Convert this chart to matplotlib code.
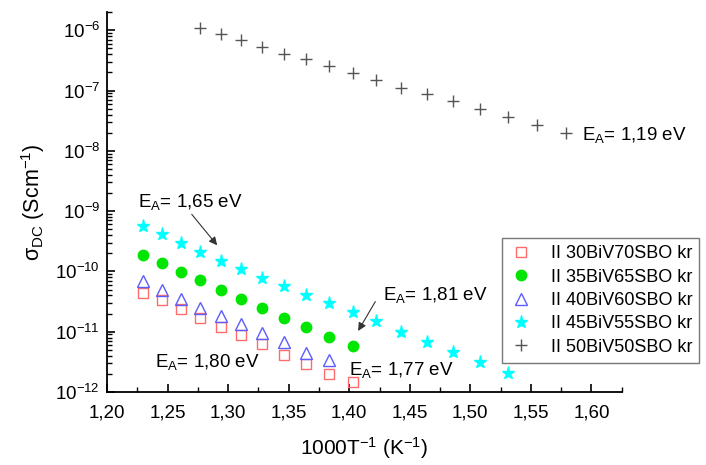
import math
import matplotlib
matplotlib.use("Agg")
import matplotlib.pyplot as plt
from matplotlib.ticker import LogLocator, MultipleLocator, FuncFormatter, NullFormatter

plt.rcParams['font.family'] = ['Liberation Sans', 'DejaVu Sans']
plt.rcParams['mathtext.fontset'] = 'custom'
plt.rcParams['mathtext.rm'] = 'Liberation Sans'
plt.rcParams['mathtext.it'] = 'Liberation Sans:italic'
plt.rcParams['mathtext.bf'] = 'Liberation Sans:bold'

# 1000/T values (K^-1)
x_long = [1.230, 1.245, 1.261, 1.277, 1.294, 1.311, 1.328, 1.346, 1.364,
          1.383, 1.403, 1.422, 1.443, 1.464, 1.486, 1.508, 1.531]
x_50 = [1.277, 1.294, 1.311, 1.328, 1.346, 1.364, 1.383, 1.403, 1.422,
        1.443, 1.464, 1.486, 1.508, 1.531, 1.555, 1.579]

s30 = [4.4e-11, 3.3e-11, 2.36e-11, 1.7e-11, 1.2e-11, 8.65e-12, 6.3e-12,
       4.1e-12, 2.86e-12, 2.0e-12, 1.44e-12]
s35 = [1.9e-10, 1.4e-10, 9.6e-11, 7.1e-11, 4.9e-11, 3.46e-11, 2.43e-11,
       1.7e-11, 1.2e-11, 8.3e-12, 5.75e-12]
s40 = [6.9e-11, 4.9e-11, 3.46e-11, 2.5e-11, 1.83e-11, 1.35e-11, 9.7e-12,
       6.8e-12, 4.45e-12, 3.37e-12]
s45 = [5.6e-10, 4.1e-10, 2.97e-10, 2.1e-10, 1.51e-10, 1.1e-10, 7.9e-11,
       5.8e-11, 4.1e-11, 3.0e-11, 2.1e-11, 1.48e-11, 9.8e-12, 6.7e-12,
       4.6e-12, 3.16e-12, 2.1e-12]
s50 = [1.11e-6, 8.8e-7, 6.8e-7, 5.3e-7, 4.1e-7, 3.3e-7, 2.53e-7, 1.96e-7,
       1.48e-7, 1.12e-7, 8.6e-8, 6.6e-8, 4.9e-8, 3.65e-8, 2.73e-8, 1.98e-8]

labels = ["II 30BiV70SBO kr", "II 35BiV65SBO kr", "II 40BiV60SBO kr",
          "II 45BiV55SBO kr", "II 50BiV50SBO kr"]

fig = plt.figure(figsize=(7.06, 4.65), dpi=100)
ax = fig.add_axes([0.1516, 0.157, 0.729, 0.817])

ax.plot(x_long[:len(s30)], s30, ls='none', marker='s', ms=6.5, mfc='none',
        mec='#ff6b6b', mew=1.0, label=labels[0])
ax.plot(x_long[:len(s35)], s35, ls='none', marker='o', ms=7.5, mfc='#00e600',
        mec='#00e600', label=labels[1])
ax.plot(x_long[:len(s40)], s40, ls='none', marker='^', ms=8, mfc='none',
        mec='#5c5cff', mew=1.0, label=labels[2])
ax.plot(x_long[:len(s45)], s45, ls='none', marker='*', ms=9.5, mfc='#00ffff',
        mec='#00ffff', label=labels[3])
ax.plot(x_50, s50, ls='none', marker='+', ms=8, mec='#555555', mew=1.0,
        label=labels[4])

ax.set_yscale('log')
ax.set_xlim(1.20, 1.625)
ax.set_ylim(1e-12, 2e-6)

ax.spines['top'].set_visible(False)
ax.spines['right'].set_visible(False)
ax.spines['left'].set_linewidth(1.3)
ax.spines['bottom'].set_linewidth(1.3)

ax.xaxis.set_major_locator(MultipleLocator(0.05))
ax.xaxis.set_minor_locator(MultipleLocator(0.025))
ax.xaxis.set_major_formatter(FuncFormatter(lambda v, p: f"{v:.2f}".replace('.', ',')))
ax.yaxis.set_major_locator(LogLocator(base=10, numticks=20))
ax.yaxis.set_minor_locator(LogLocator(base=10, subs=range(2, 10), numticks=20))
ax.yaxis.set_minor_formatter(NullFormatter())
ax.yaxis.set_major_formatter(FuncFormatter(lambda v, p: r"$10^{%d}$" % round(math.log10(v))))

ax.tick_params(which='major', direction='in', length=6, width=1.2, labelsize=13.5)
ax.tick_params(axis='x', which='major', pad=9)
ax.tick_params(axis='y', which='major', pad=5)
ax.tick_params(which='minor', direction='in', length=3.5, width=1.0)
ax.tick_params(top=False, right=False)

ax.set_xlabel(r"1000T$^{-1}$ (K$^{-1}$)", fontsize=15, labelpad=10)
ax.set_ylabel(r"σ$_{\mathrm{DC}}$ (Scm$^{-1}$)", fontsize=15.5, labelpad=6)

afs = 13.5
arrow = dict(arrowstyle='-|>', color='#333333', lw=0.8, mutation_scale=12)
ax.text(1.2255, 9.6e-10, r"E$_\mathrm{A}$= 1,65 eV", fontsize=afs, va='bottom')
ax.annotate("", xy=(1.2924, 2.5e-10), xytext=(1.2685, 9.6e-10), arrowprops=arrow)
ax.text(1.240, 3.2e-12, r"E$_\mathrm{A}$= 1,80 eV", fontsize=afs, va='center')
ax.text(1.3996, 2.3e-12, r"E$_\mathrm{A}$= 1,77 eV", fontsize=afs, va='center')
ax.text(1.4276, 4.0e-11, r"E$_\mathrm{A}$= 1,81 eV", fontsize=afs, va='center')
ax.annotate("", xy=(1.4062, 9.4e-12), xytext=(1.4227, 3.46e-11), arrowprops=arrow)
ax.text(1.5926, 1.82e-8, r"E$_\mathrm{A}$= 1,19 eV", fontsize=afs, va='center')

leg = ax.legend(loc='upper left', bbox_to_anchor=(0.767, 0.405), fontsize=13,
                frameon=True, fancybox=False, edgecolor='#555555',
                borderaxespad=0, handlelength=1.3, handletextpad=1.0,
                labelspacing=0.35, borderpad=0.4)
leg.get_frame().set_linewidth(1.0)
leg.set_clip_on(False)

fig.savefig("out.png", dpi=100)
